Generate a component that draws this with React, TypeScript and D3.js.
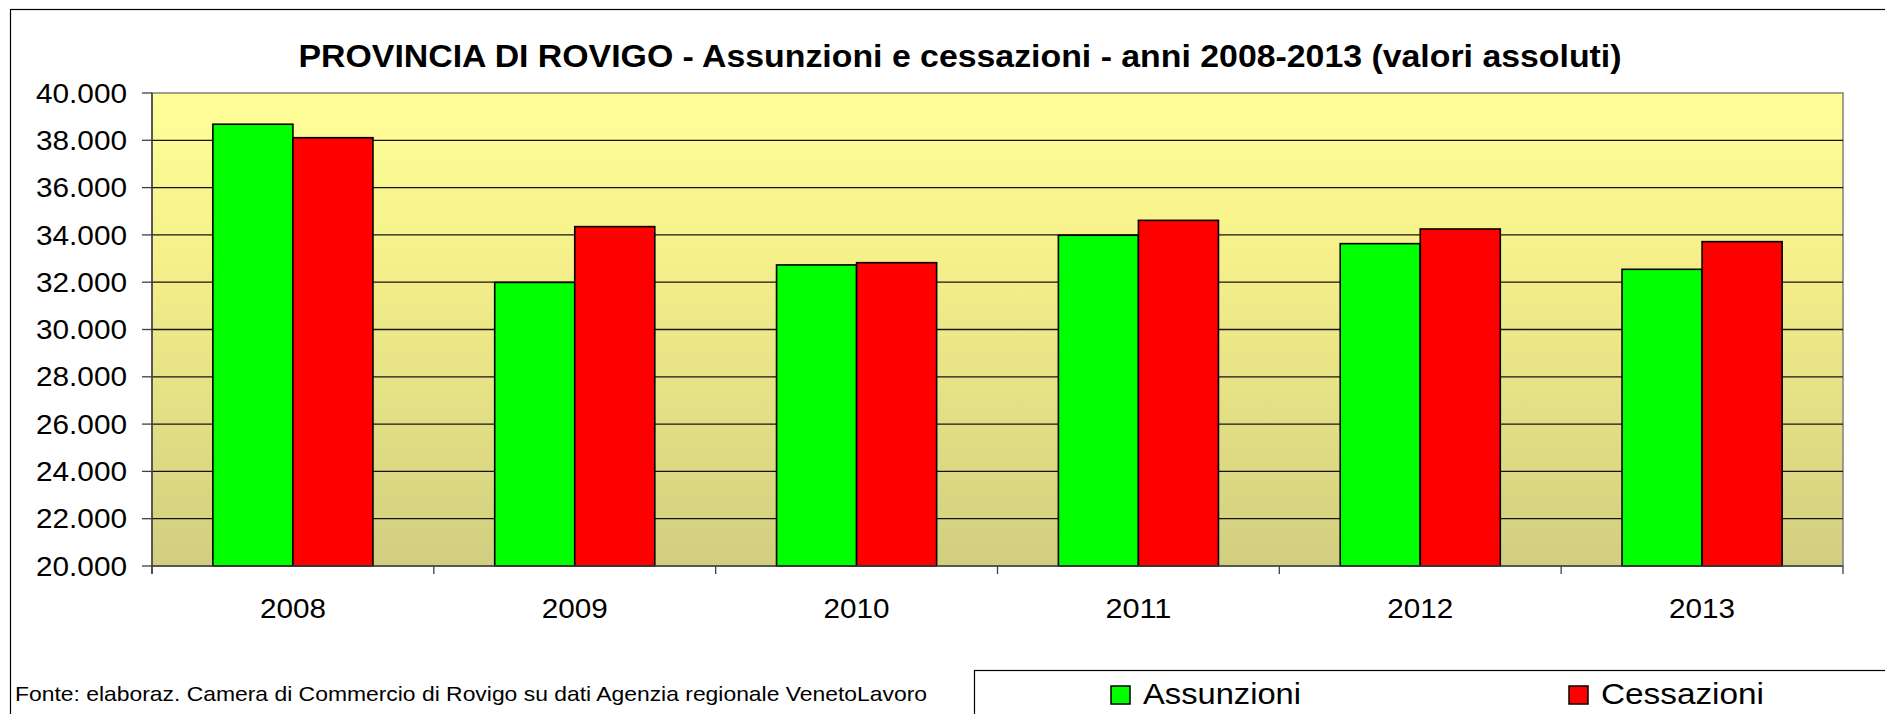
import React from "react";
import * as d3 from "d3";

const years = ["2008", "2009", "2010", "2011", "2012", "2013"];
const assunzioni = [38680, 31990, 32730, 33985, 33630, 32545];
const cessazioni = [38110, 34350, 32825, 34615, 34250, 33715];
const seriesNames = ["Assunzioni", "Cessazioni"];
const seriesColors = ["#00FF00", "#FF0000"];
const yTicks = [20000, 22000, 24000, 26000, 28000, 30000, 32000, 34000, 36000, 38000, 40000];
const title = "PROVINCIA DI ROVIGO - Assunzioni e cessazioni - anni 2008-2013 (valori assoluti)";
const source = "Fonte: elaboraz. Camera di Commercio di Rovigo su dati Agenzia regionale VenetoLavoro";

const W = 1885;
const H = 714;
const plot = { left: 152, right: 1843, top: 93, bottom: 566 };
const FONT = "'Liberation Sans', Arial, sans-serif";

const fmt = (v: number) => d3.format(",")(v).replace(/,/g, ".");

export default function App() {
  const x = d3
    .scaleBand<string>()
    .domain(years)
    .range([plot.left, plot.right])
    .paddingInner(0.432)
    .paddingOuter(0.216);
  const xs = d3.scaleBand<string>().domain(seriesNames).range([0, x.bandwidth()]);
  const y = d3.scaleLinear().domain([20000, 40000]).range([plot.bottom, plot.top]);
  const step = x.step();
  const data = [assunzioni, cessazioni];
  const legendX = [1111, 1569];
  const legendW = [158, 163];

  return (
    <div style={{ position: "absolute", left: 0, top: 0 }}>
      <svg width={W} height={H} style={{ display: "block" }}>
        <defs>
          <linearGradient id="bg" x1="0" y1="0" x2="0" y2="1">
            <stop offset="0" stopColor="#FFFF99" />
            <stop offset="0.35" stopColor="#F5F08A" />
            <stop offset="1" stopColor="#D1CE80" />
          </linearGradient>
        </defs>
        <rect x={0} y={0} width={W} height={H} fill="#fff" />
        <rect x={10.5} y={9.5} width={W} height={H} fill="#fff" stroke="#000" strokeWidth={1.2} />
        <text
          x={960}
          y={67}
          textAnchor="middle"
          fontFamily={FONT}
          fontWeight="bold"
          fontSize={32}
          fill="#000"
          textLength={1323}
          lengthAdjust="spacingAndGlyphs"
        >
          {title}
        </text>
        {/* plot area */}
        <rect
          x={plot.left}
          y={plot.top}
          width={plot.right - plot.left}
          height={plot.bottom - plot.top}
          fill="url(#bg)"
          stroke="#808080"
          strokeWidth={1.5}
        />
        {yTicks.map((t) => (
          <g key={t}>
            {t > 20000 && t < 40000 && (
              <line x1={plot.left} x2={plot.right} y1={y(t)} y2={y(t)} stroke="#141414" strokeWidth={1.3} />
            )}
            <line x1={plot.left - 10} x2={plot.left} y1={y(t)} y2={y(t)} stroke="#404040" strokeWidth={1.3} />
            <text
              x={127}
              y={y(t)}
              dy="0.35em"
              textAnchor="end"
              fontFamily={FONT}
              fontSize={27.5}
              fill="#000"
              textLength={91}
              lengthAdjust="spacingAndGlyphs"
            >
              {fmt(t)}
            </text>
          </g>
        ))}
        {/* bars */}
        {years.map((yr, i) => (
          <g key={yr}>
            {data.map((s, j) => (
              <rect
                key={j}
                x={(x(yr) as number) + (xs(seriesNames[j]) as number)}
                y={y(s[i])}
                width={xs.bandwidth()}
                height={y(20000) - y(s[i])}
                fill={seriesColors[j]}
                stroke="#000"
                strokeWidth={1.6}
              />
            ))}
            <text
              x={(x(yr) as number) + x.bandwidth() / 2}
              y={618}
              textAnchor="middle"
              fontFamily={FONT}
              fontSize={27.5}
              fill="#000"
              textLength={66}
              lengthAdjust="spacingAndGlyphs"
            >
              {yr}
            </text>
          </g>
        ))}
        {/* axes */}
        <line x1={plot.left} x2={plot.left} y1={plot.top} y2={plot.bottom + 8} stroke="#404040" strokeWidth={1.5} />
        <line x1={plot.left} x2={plot.right} y1={plot.bottom} y2={plot.bottom} stroke="#404040" strokeWidth={1.5} />
        {d3.range(years.length + 1).map((k) => (
          <line
            key={k}
            x1={plot.left + k * step}
            x2={plot.left + k * step}
            y1={plot.bottom}
            y2={plot.bottom + 8}
            stroke="#404040"
            strokeWidth={1.3}
          />
        ))}
        {/* source */}
        <text x={15} y={701} fontFamily={FONT} fontSize={21} fill="#000" textLength={912} lengthAdjust="spacingAndGlyphs">
          {source}
        </text>
        {/* legend */}
        <rect x={974.5} y={670.5} width={W} height={H} fill="#fff" stroke="#000" strokeWidth={1.2} />
        {seriesNames.map((n, j) => (
          <g key={n}>
            <rect x={legendX[j]} y={686} width={19} height={18} fill={seriesColors[j]} stroke="#000" strokeWidth={1.5} />
            <text
              x={legendX[j] + 32}
              y={704}
              fontFamily={FONT}
              fontSize={30}
              fill="#000"
              textLength={legendW[j]}
              lengthAdjust="spacingAndGlyphs"
            >
              {n}
            </text>
          </g>
        ))}
      </svg>
    </div>
  );
}
